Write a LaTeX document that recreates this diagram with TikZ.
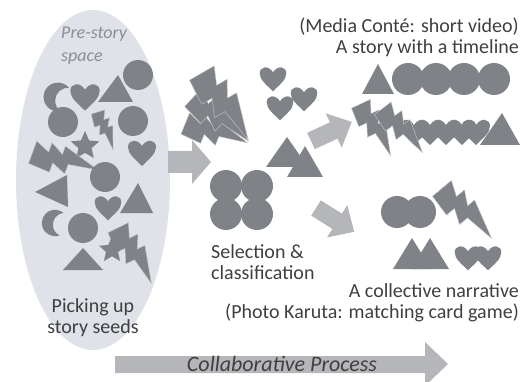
\documentclass[tikz,border=0pt]{standalone}
\usepackage{fontspec}
\setmainfont{Carlito}

\definecolor{seedgray}{HTML}{7F8388}
\definecolor{spacegray}{HTML}{DFE2E8}
\definecolor{arrowgray}{HTML}{B4B6B9}
\definecolor{textgray}{HTML}{3F3F3F}
\definecolor{softgray}{HTML}{8A8E96}

\tikzset{
  seed/.style={fill=seedgray},
  flow/.style={fill=arrowgray},
  caption/.style={text=textgray, font=\fontsize{20}{21}\selectfont, inner sep=0pt},
  pics/heart/.style={code={
    \fill[seed] (0,14) .. controls (-7,7) and (-14,2) .. (-14,-5) .. controls (-14,-12) and (-5,-14) .. (0,-6)
      .. controls (5,-14) and (14,-12) .. (14,-5) .. controls (14,2) and (7,7) .. (0,14) -- cycle;}},
  pics/bolt/.style={code={
    \fill[seed, draw=white!55!seedgray, line width=0.4] (-11,-27) -- (8,-27) -- (3,-15) -- (11,-15) -- (5,-4) -- (12,-4)
      -- (3,27) -- (-1,3) -- (-9,3) -- (-4,-9) -- (-12,-9) -- cycle;}},
  pics/moon/.style={code={
    \fill[seed] (60:12) arc[start angle=60, end angle=300, radius=12]
      arc[start angle=253.9, end angle=106.1, radius=10.8] -- cycle;}},
  pics/starseed/.style={code={
    \fill[seed] (-90:13) \foreach \k in {1,...,9} {-- ({-90+36*\k}:{ifthenelse(mod(\k,2)==0,13,6)})} -- cycle;}},
  pics/fatarrow/.style={code={
    \fill[flow] (0,-9) -- (25,-9) -- (25,-19) -- (45,0) -- (25,19) -- (25,9) -- (0,9) -- cycle;}}
}

\begin{document}
\begin{tikzpicture}[x=1pt, y=-1pt]
\useasboundingbox (0,0) rectangle (527,382);

\fill[spacegray] (93,180) ellipse [x radius=77, y radius=170];

\node[caption, font=\itshape\fontsize{18}{23}\selectfont, text=softgray, align=left, anchor=north west] (prestory) at (61,27) {Pre-story\\space};

\fill[seed] (138,75) circle (15);
\fill[seed] (98,102) -- (133,102) -- (118,75) -- cycle;
\pic[scale=1.05] at (85,96) {heart};
\pic[rotate=-20, scale=1.2] at (58,97) {moon};
\fill[seed] (63,122) circle (15);
\pic[rotate=17, scale=0.75] at (105,131) {bolt};
\fill[seed] (133,121) circle (15);
\pic[scale=1.15] at (85,146) {starseed};
\pic[scale=1.0] at (142,152) {heart};
\pic[rotate=70, scale=1.25] at (65,162) {bolt};
\fill[seed] (105,177) circle (15);
\fill[seed] (35,192) -- (67,175) -- (68,207) -- cycle;
\pic[scale=0.95] at (108,207) {heart};
\fill[seed] (120,213) -- (153,213) -- (138,183) -- cycle;
\pic[rotate=-10, scale=1.1] at (55,223) {moon};
\fill[seed] (83,228) circle (15);
\pic[rotate=26, scale=1.2] at (134,256) {bolt};
\pic[scale=1.05] at (112,250) {starseed};
\fill[seed] (63,270) -- (103,270) -- (83,248) -- cycle;

\node[caption, align=center, anchor=north] (picking) at (93,298) {Picking up\\story seeds};

\fill[flow] (168,151) -- (192,151) -- (192,140) -- (211,162) -- (192,184) -- (192,173) -- (168,173) -- cycle;

\pic[rotate=68, scale=1.2] at (216,134) {bolt};
\pic[rotate=47, scale=1.3] at (220,120) {bolt};
\pic[rotate=30, scale=1.5] at (224,107) {bolt};

\pic[scale=0.95] at (273,78) {heart};
\pic[scale=0.95] at (304,98) {heart};
\pic[scale=0.95] at (280,107) {heart};

\fill[seed] (266,167) -- (308,167) -- (287,137) -- cycle;
\fill[seed] (287,177) -- (323,177) -- (305,146) -- cycle;

\fill[seed] (226,186) circle (16);
\fill[seed] (257,186) circle (16);
\fill[seed] (226,214) circle (16);
\fill[seed] (257,214) circle (16);

\node[caption, align=left, anchor=north west] (selection) at (211,244) {Selection \&\\classification};

\pic[rotate=25] at (311,141) {fatarrow};
\pic[rotate=-32] at (316,208) {fatarrow};

\node[caption, align=right, anchor=north east] (timeline) at (519,18) {(Media Conté: short video)\\A story with a timeline};

\fill[seed] (362,94) -- (394,94) -- (378,64) -- cycle;
\foreach \cx in {408,436,464,494} {
  \fill[seed] (\cx,79) circle (16);
}

\foreach \hx in {476,462,446,430,414} {
  \pic at (\hx,131) {heart};
}
\pic[rotate=25, scale=1.1] at (375,130) {bolt};
\pic[rotate=37, scale=1.1] at (402,131) {bolt};
\fill[seed] (480,145) -- (520,145) -- (502,113) -- cycle;

\fill[seed] (397,212) circle (16);
\fill[seed] (420,212) circle (16);
\pic[rotate=40, scale=1.3] at (466,214) {bolt};
\fill[seed] (393,269) -- (431,269) -- (412,238) -- cycle;
\fill[seed] (411,269) -- (449,269) -- (430,238) -- cycle;
\pic[scale=0.95] at (468,257) {heart};
\pic[scale=0.95] at (488,257) {heart};

\node[caption, align=right, anchor=north east] (collective) at (519,283) {A collective narrative\\(Photo Karuta: matching card game)};

\fill[flow] (115,356) -- (425,356) -- (425,342) -- (448,364) -- (425,386) -- (425,373) -- (115,373) -- cycle;
\node[caption, font=\itshape\fontsize{22}{24}\selectfont] (process) at (282,364) {Collaborative Process};

\end{tikzpicture}
\end{document}
